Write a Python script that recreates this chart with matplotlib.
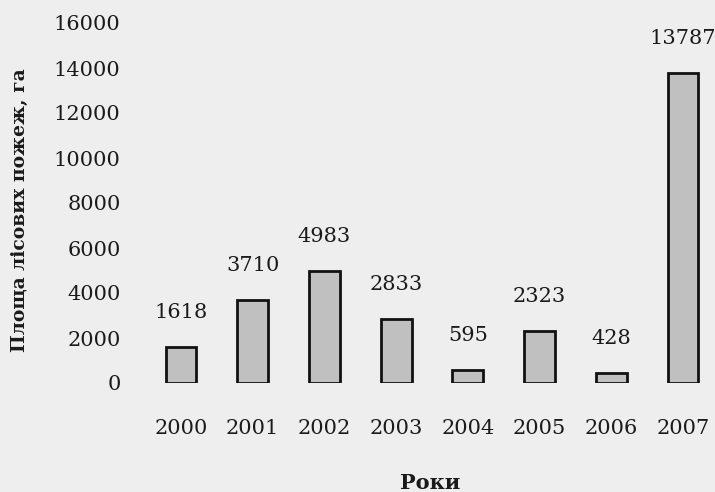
import matplotlib
matplotlib.use("Agg")
from matplotlib import pyplot as plt
import numpy as np

years = ["2000", "2001", "2002", "2003", "2004", "2005", "2006", "2007"]
area = [1618, 3710, 4983, 2833, 595, 2323, 428, 13787]
yticks = [0, 2000, 4000, 6000, 8000, 10000, 12000, 14000, 16000]

plt.rcParams['font.family'] = ['DejaVu Serif']
bg = '#eeeeee'
ink = '#1a1a1a'

fig = plt.figure(figsize=(7.15, 4.92), dpi=100, facecolor=bg)
W, H = 715.0, 492.0
# axes placed in pixels: left 140, right 712, top 23, bottom 383
ax = fig.add_axes([140 / W, 1 - 383 / H, (712 - 140) / W, (383 - 23) / H])
ax.set_facecolor(bg)

x = np.arange(len(years))
bars = ax.bar(x, area, width=0.43, color='#c0c0c0', edgecolor='#111111', linewidth=2)

for xi, v in zip(x, area):
    ax.annotate(str(v), (xi, v), xytext=(0, 18), textcoords='offset points',
                ha='center', va='bottom', fontsize=15, color=ink)

ax.set_xlim(-0.572, 7.404)
ax.set_ylim(0, 16000)
ax.set_yticks(yticks)
ax.set_yticklabels([str(t) for t in yticks])
ax.set_xticks(x)
ax.set_xticklabels(years)
ax.tick_params(axis='y', length=0, pad=14, labelsize=15, labelcolor=ink)
ax.tick_params(axis='x', length=0, pad=26, labelsize=15, labelcolor=ink)
for s in ax.spines.values():
    s.set_visible(False)

fig.text(430 / W, 1 - 483 / H, "Роки", ha='center', va='center',
         fontsize=15, fontweight='bold', color=ink)
fig.text(20 / W, 1 - 210 / H, "Площа лісових пожеж, га", ha='center', va='center',
         rotation=90, fontsize=13.5, fontweight='bold', color=ink)

fig.savefig("out.png", dpi=100, facecolor=bg)
